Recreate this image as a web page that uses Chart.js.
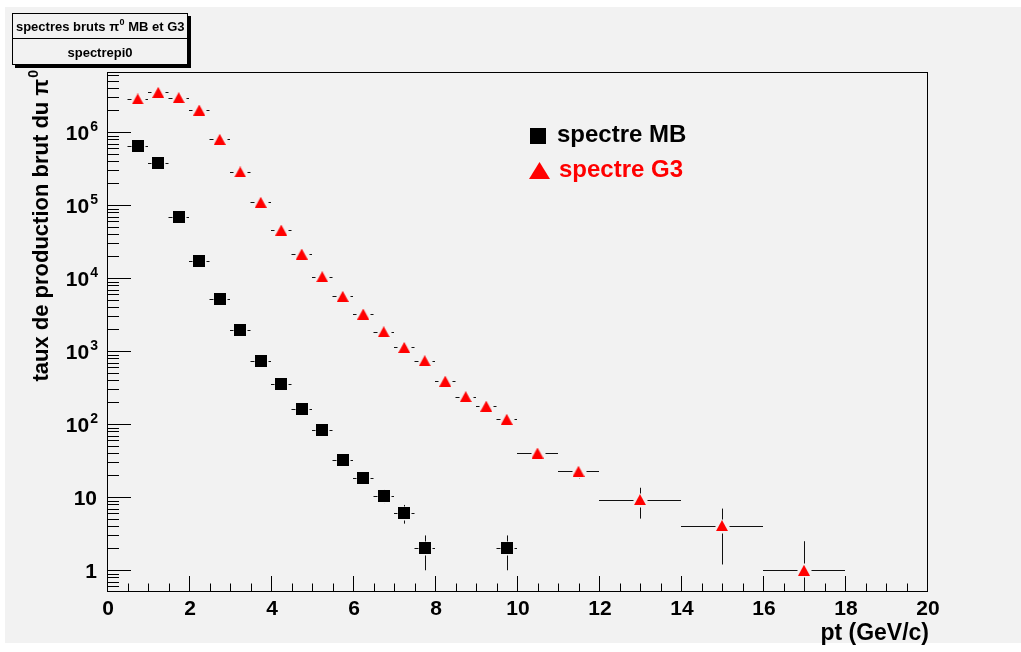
<!DOCTYPE html>
<html>
<head>
<meta charset="utf-8">
<title>spectrepi0</title>
<script src="https://cdn.jsdelivr.net/npm/chart.js@4.4.1/dist/chart.umd.min.js"></script>
<style>
    html, body { margin: 0; padding: 0; background: #ffffff; }
    #wrap { position: relative; width: 1021px; height: 652px; }
</style>
</head>
<body>
<div id="wrap"><canvas id="spectre" width="1021" height="652"></canvas></div>
<script>
// spectre MB : centre du bin, valeur, erreur
const mbPt = [0.75, 1.25, 1.75, 2.25, 2.75, 3.25, 3.75, 4.25, 4.75, 5.25, 5.75, 6.25, 6.75, 7.25, 7.75, 9.75];
const mbPtErr = [0.25, 0.25, 0.25, 0.25, 0.25, 0.25, 0.25, 0.25, 0.25, 0.25, 0.25, 0.25, 0.25, 0.25, 0.25, 0.25];
const mbTaux = [6.5e5, 3.8e5, 7.0e4, 1.7e4, 5.2e3, 1.95e3, 740, 355, 163, 84, 32, 18.5, 10.5, 6.1, 2, 2];
const mbErr = [570, 436, 187, 92, 51, 31, 19, 13, 9, 6.5, 4, 3, 2.3, 1.75, 1, 1];

// spectre G3
const g3Pt = [0.75, 1.25, 1.75, 2.25, 2.75, 3.25, 3.75, 4.25, 4.75, 5.25, 5.75, 6.25, 6.75, 7.25, 7.75,
              8.25, 8.75, 9.25, 9.75, 10.5, 11.5, 13, 15, 17];
const g3PtErr = [0.25, 0.25, 0.25, 0.25, 0.25, 0.25, 0.25, 0.25, 0.25, 0.25, 0.25, 0.25, 0.25, 0.25, 0.25,
                 0.25, 0.25, 0.25, 0.25, 0.5, 0.5, 1, 1, 1];
const g3Taux = [2.86e6, 3.53e6, 2.98e6, 2.02e6, 8.0e5, 2.86e5, 1.1e5, 4.57e4, 2.15e4, 1.05e4, 5.66e3, 3.24e3, 1.85e3, 1.13e3, 743,
                390, 239, 177, 117, 40.4, 22.7, 9.3, 4.1, 1];
const g3Err = [1700, 1900, 1700, 1400, 900, 535, 330, 214, 147, 102, 75, 57, 43, 34, 27,
               20, 15.5, 13.3, 10.8, 6.4, 4.8, 4.2, 2.9, 1.5];

// axes
const xTickLabels = ['0', '2', '4', '6', '8', '10', '12', '14', '16', '18', '20'];
const yDecades = [0, 1, 2, 3, 4, 5, 6];

const FONT = '"Liberation Sans", Arial, Helvetica, sans-serif';
const ROOT_GREY = '#f2f2f2';

function makeMarker(kind, w, h, color) {
    const c = document.createElement('canvas');
    c.width = w;
    c.height = h;
    const g = c.getContext('2d');
    g.fillStyle = color;
    if (kind === 'square') {
        g.fillRect(0, 0, w, h);
    } else {
        g.beginPath();
        g.moveTo(w / 2, 0);
        g.lineTo(w, h);
        g.lineTo(0, h);
        g.closePath();
        g.fill();
    }
    return c;
}

const squareMarker = makeMarker('square', 12, 12, '#000000');
const triangleMarker = makeMarker('triangle', 12, 11, '#ff0000');

function toPoints(xs, ys) {
    return xs.map((x, i) => ({ x: x, y: ys[i] }));
}

// dessine du texte avec un exposant, aligné à droite ou à gauche
function drawSupText(ctx, base, sup, x, y, baseSize, supSize, align) {
    ctx.font = 'bold ' + baseSize + 'px ' + FONT;
    const wb = ctx.measureText(base).width;
    ctx.font = 'bold ' + supSize + 'px ' + FONT;
    const ws = sup ? ctx.measureText(sup).width : 0;
    const start = align === 'right' ? x - wb - ws : x;
    ctx.textAlign = 'left';
    ctx.textBaseline = 'alphabetic';
    ctx.font = 'bold ' + baseSize + 'px ' + FONT;
    ctx.fillText(base, start, y);
    if (sup) {
        ctx.font = 'bold ' + supSize + 'px ' + FONT;
        ctx.fillText(sup, start + wb + 1, y - baseSize * 0.42);
    }
    return wb + ws;
}

const rootStyle = {
    id: 'rootStyle',
    beforeDraw(chart) {
        const ctx = chart.ctx;
        ctx.save();
        ctx.fillStyle = '#ffffff';
        ctx.fillRect(0, 0, chart.width, chart.height);
        ctx.fillStyle = ROOT_GREY;
        ctx.fillRect(5, 7, 1016, 636);
        ctx.restore();
    },
    beforeDatasetsDraw(chart) {
        const ctx = chart.ctx;
        const area = chart.chartArea;
        const xs = chart.scales.x;
        const ys = chart.scales.y;
        ctx.save();
        ctx.strokeStyle = '#000000';
        ctx.lineWidth = 1;

        // cadre
        ctx.strokeRect(Math.round(area.left) + 0.5, Math.round(area.top) + 0.5,
                       Math.round(area.right - area.left), Math.round(area.bottom - area.top));

        // graduations x (vers l'intérieur)
        ctx.beginPath();
        for (let i = 0; i <= 40; i++) {
            const px = Math.round(xs.getPixelForValue(i * 0.5)) + 0.5;
            const len = i % 4 === 0 ? 15 : 7.5;
            ctx.moveTo(px, area.bottom);
            ctx.lineTo(px, area.bottom - len);
        }
        // graduations y log
        for (let e = -1; e <= 6; e++) {
            for (let m = 1; m <= 9; m++) {
                const v = m * Math.pow(10, e);
                if (v < ys.min || v > ys.max) continue;
                const py = Math.round(ys.getPixelForValue(v)) + 0.5;
                const len = m === 1 ? 24 : 12;
                ctx.moveTo(area.left, py);
                ctx.lineTo(area.left + len, py);
            }
        }
        ctx.stroke();

        // barres d'erreur
        const drawErrors = (pts, ptErr, vals, errs, half) => {
            ctx.beginPath();
            pts.forEach((pt, i) => {
                const px = Math.round(xs.getPixelForValue(pt)) + 0.5;
                const py = Math.round(ys.getPixelForValue(vals[i])) + 0.5;
                const xl = xs.getPixelForValue(pt - ptErr[i]);
                const xr = xs.getPixelForValue(pt + ptErr[i]);
                if (px - half - 1 > xl) {
                    ctx.moveTo(xl, py);
                    ctx.lineTo(px - half - 1, py);
                }
                if (px + half + 1 < xr) {
                    ctx.moveTo(px + half + 1, py);
                    ctx.lineTo(xr, py);
                }
                const yt = ys.getPixelForValue(vals[i] + errs[i]);
                const lo = vals[i] - errs[i];
                const yb = lo > ys.min ? ys.getPixelForValue(lo) : area.bottom;
                if (yt < py - half - 1) {
                    ctx.moveTo(px, yt);
                    ctx.lineTo(px, py - half - 1);
                }
                if (yb > py + half + 1) {
                    ctx.moveTo(px, py + half + 1);
                    ctx.lineTo(px, yb);
                }
            });
            ctx.stroke();
        };
        ctx.strokeStyle = '#111111';
        drawErrors(mbPt, mbPtErr, mbTaux, mbErr, 6);
        drawErrors(g3Pt, g3PtErr, g3Taux, g3Err, 6);
        ctx.restore();
    },
    afterDraw(chart) {
        const ctx = chart.ctx;
        const area = chart.chartArea;
        const xs = chart.scales.x;
        const ys = chart.scales.y;
        ctx.save();
        ctx.fillStyle = '#000000';

        // étiquettes x
        ctx.font = 'bold 21px ' + FONT;
        ctx.textAlign = 'center';
        ctx.textBaseline = 'alphabetic';
        xTickLabels.forEach((lab, i) => {
            ctx.fillText(lab, xs.getPixelForValue(i * 2) + 1, 615);
        });

        // étiquettes y
        yDecades.forEach(e => {
            const py = ys.getPixelForValue(Math.pow(10, e));
            if (e === 0) drawSupText(ctx, '1', '', 97, py + 7.5, 21, 14, 'right');
            else if (e === 1) drawSupText(ctx, '10', '', 97, py + 7.5, 21, 14, 'right');
            else drawSupText(ctx, '10', String(e), 97, py + 7.5, 21, 14, 'right');
        });

        // titre x
        ctx.font = 'bold 23px ' + FONT;
        ctx.textAlign = 'right';
        ctx.fillText('pt (GeV/c)', area.right + 2, 640);

        // titre y (tourné)
        ctx.save();
        ctx.font = 'bold 22px ' + FONT;
        const yTitle = 'taux de production brut du \u03c0';
        const wt = ctx.measureText(yTitle).width;
        ctx.font = 'bold 14px ' + FONT;
        const wsup = ctx.measureText('0').width;
        ctx.translate(48, 70 + wt + wsup + 1);
        ctx.rotate(-Math.PI / 2);
        ctx.textAlign = 'left';
        ctx.font = 'bold 22px ' + FONT;
        ctx.fillText(yTitle, 0, 0);
        ctx.font = 'bold 14px ' + FONT;
        ctx.fillText('0', wt + 1, -10);
        ctx.restore();

        // légende
        ctx.drawImage(makeMarker('square', 16, 16, '#000000'), 530, 128);
        ctx.drawImage(makeMarker('triangle', 21, 17, '#ff0000'), 529, 162);
        ctx.textAlign = 'left';
        ctx.font = 'bold 24px ' + FONT;
        ctx.fillStyle = '#000000';
        ctx.fillText('spectre MB', 557, 142);
        ctx.fillStyle = '#ff0000';
        ctx.fillText('spectre G3', 559, 177);

        // boîte de titre
        ctx.fillStyle = '#000000';
        ctx.fillRect(188, 16, 3, 52);
        ctx.fillRect(15, 65, 176, 3);
        ctx.fillStyle = ROOT_GREY;
        ctx.fillRect(12, 13, 176, 52);
        ctx.strokeStyle = '#000000';
        ctx.lineWidth = 1;
        ctx.strokeRect(12.5, 13.5, 175, 51);
        ctx.beginPath();
        ctx.moveTo(12, 38.5);
        ctx.lineTo(188, 38.5);
        ctx.stroke();
        ctx.fillStyle = '#000000';
        ctx.font = 'bold 13px ' + FONT;
        const t1 = 'spectres bruts \u03c0';
        const t2 = ' MB et G3';
        const w1 = ctx.measureText(t1).width;
        const w2 = ctx.measureText(t2).width;
        ctx.font = 'bold 9px ' + FONT;
        const w0 = ctx.measureText('0').width;
        let sx = 100 - (w1 + w0 + w2) / 2;
        ctx.textAlign = 'left';
        ctx.font = 'bold 13px ' + FONT;
        ctx.fillText(t1, sx, 31);
        ctx.font = 'bold 9px ' + FONT;
        ctx.fillText('0', sx + w1 + 0.5, 25);
        ctx.font = 'bold 13px ' + FONT;
        ctx.fillText(t2, sx + w1 + w0 + 0.5, 31);
        ctx.textAlign = 'center';
        ctx.fillText('spectrepi0', 100, 57);
        ctx.restore();
    }
};

const ctx = document.getElementById('spectre').getContext('2d');
const spectreChart = new Chart(ctx, {
    type: 'scatter',
    data: {
        datasets: [
            {
                label: 'spectre MB',
                data: toPoints(mbPt, mbTaux),
                pointStyle: squareMarker,
                pointRadius: 6,
                showLine: false
            },
            {
                label: 'spectre G3',
                data: toPoints(g3Pt, g3Taux),
                pointStyle: triangleMarker,
                pointRadius: 6,
                showLine: false
            }
        ]
    },
    options: {
        responsive: false,
        animation: false,
        events: [],
        layout: { padding: { left: 107, right: 94, top: 72, bottom: 61 } },
        plugins: {
            legend: { display: false },
            title: { display: false },
            tooltip: { enabled: false }
        },
        scales: {
            x: { type: 'linear', min: 0, max: 20, display: false },
            y: { type: 'logarithmic', min: 0.52, max: 6.7e6, display: false }
        }
    },
    plugins: [rootStyle]
});
</script>
</body>
</html>
